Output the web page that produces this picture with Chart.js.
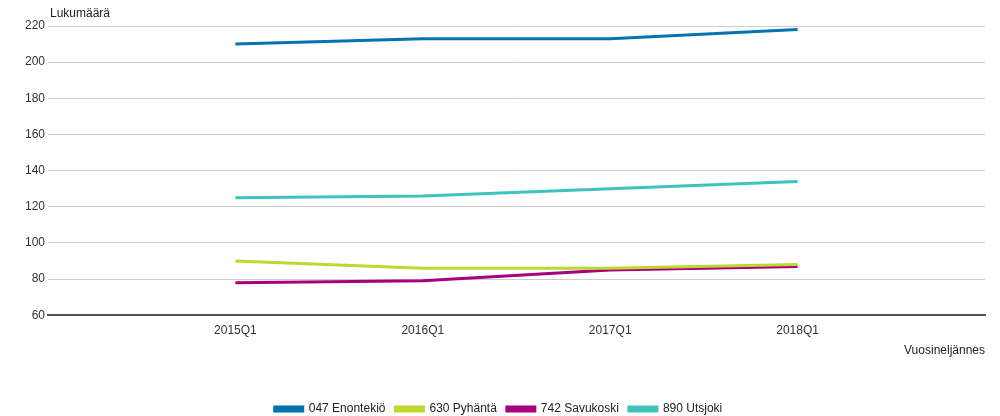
<!DOCTYPE html>
<html>
<head>
<meta charset="utf-8">
<script src="https://cdn.jsdelivr.net/npm/chart.js@4"></script>
<style>
  html, body { margin: 0; padding: 0; background: #fff; }
  #wrap { width: 1000px; height: 416px; position: relative; }
</style>
</head>
<body>
<div id="wrap"><canvas id="ch"></canvas></div>
<script>
const quarters = ['2015Q1', '2016Q1', '2017Q1', '2018Q1'];
const enontekio = [210, 213, 213, 218];
const pyhanta   = [90, 86, 86, 88];
const savukoski = [78, 79, 85, 87];
const utsjoki   = [125, 126, 130, 134];
const yTicks = { min: 60, max: 220, step: 20 };

// tyhjä paikka kummallekin reunalle kuten alkuperäisessä
const pad = arr => [null, ...arr, null];
const labels = ['', ...quarters, ''];

const FONT = '"Liberation Sans", Arial, sans-serif';
Chart.defaults.font.family = FONT;
Chart.defaults.color = '#333';

const series = [
  { label: '047 Enontekiö', data: enontekio, color: '#0073b0' },
  { label: '630 Pyhäntä',   data: pyhanta,   color: '#bfd630' },
  { label: '742 Savukoski', data: savukoski, color: '#a6007f' },
  { label: '890 Utsjoki',   data: utsjoki,   color: '#3cc4bc' },
];

const yTitle = {
  id: 'yTitle',
  afterDraw(chart) {
    const { ctx, chartArea } = chart;
    ctx.save();
    ctx.font = '12px ' + FONT;
    ctx.fillStyle = '#222';
    ctx.textBaseline = 'bottom';
    ctx.textAlign = 'left';
    ctx.fillText('Lukumäärä', chartArea.left + 2, chartArea.top - 6);
    ctx.restore();
  }
};

new Chart(document.getElementById('ch').getContext('2d'), {
  type: 'line',
  data: {
    labels,
    datasets: series.map(s => ({
      label: s.label,
      data: pad(s.data),
      borderColor: s.color,
      backgroundColor: s.color,
      borderWidth: 3,
      pointRadius: 0,
      tension: 0,
      spanGaps: false
    }))
  },
  options: {
    responsive: true,
    maintainAspectRatio: false,
    animation: false,
    layout: { padding: { top: 26, right: 15, left: 12, bottom: -9 } },
    plugins: {
      tooltip: { enabled: false },
      legend: {
        position: 'bottom',
        labels: { boxWidth: 28, boxHeight: 4, font: { size: 12 }, padding: 10, color: '#222' }
      }
    },
    scales: {
      x: {
        offset: false,
        grid: { display: false },
        border: { color: '#555', width: 2 },
        ticks: { autoSkip: false, maxRotation: 0, font: { size: 12 }, padding: 0 },
        title: { display: true, text: 'Vuosineljännes', align: 'end', font: { size: 12 }, color: '#222', padding: { top: 6, bottom: 35 } }
      },
      y: {
        min: yTicks.min,
        max: yTicks.max,
        afterFit(scale) { scale.width = 36; },
        grid: { color: '#cccccc', drawTicks: false },
        border: { display: false },
        ticks: { stepSize: yTicks.step, font: { size: 12 }, padding: 3 }
      }
    }
  },
  plugins: [yTitle]
});
</script>
</body>
</html>
